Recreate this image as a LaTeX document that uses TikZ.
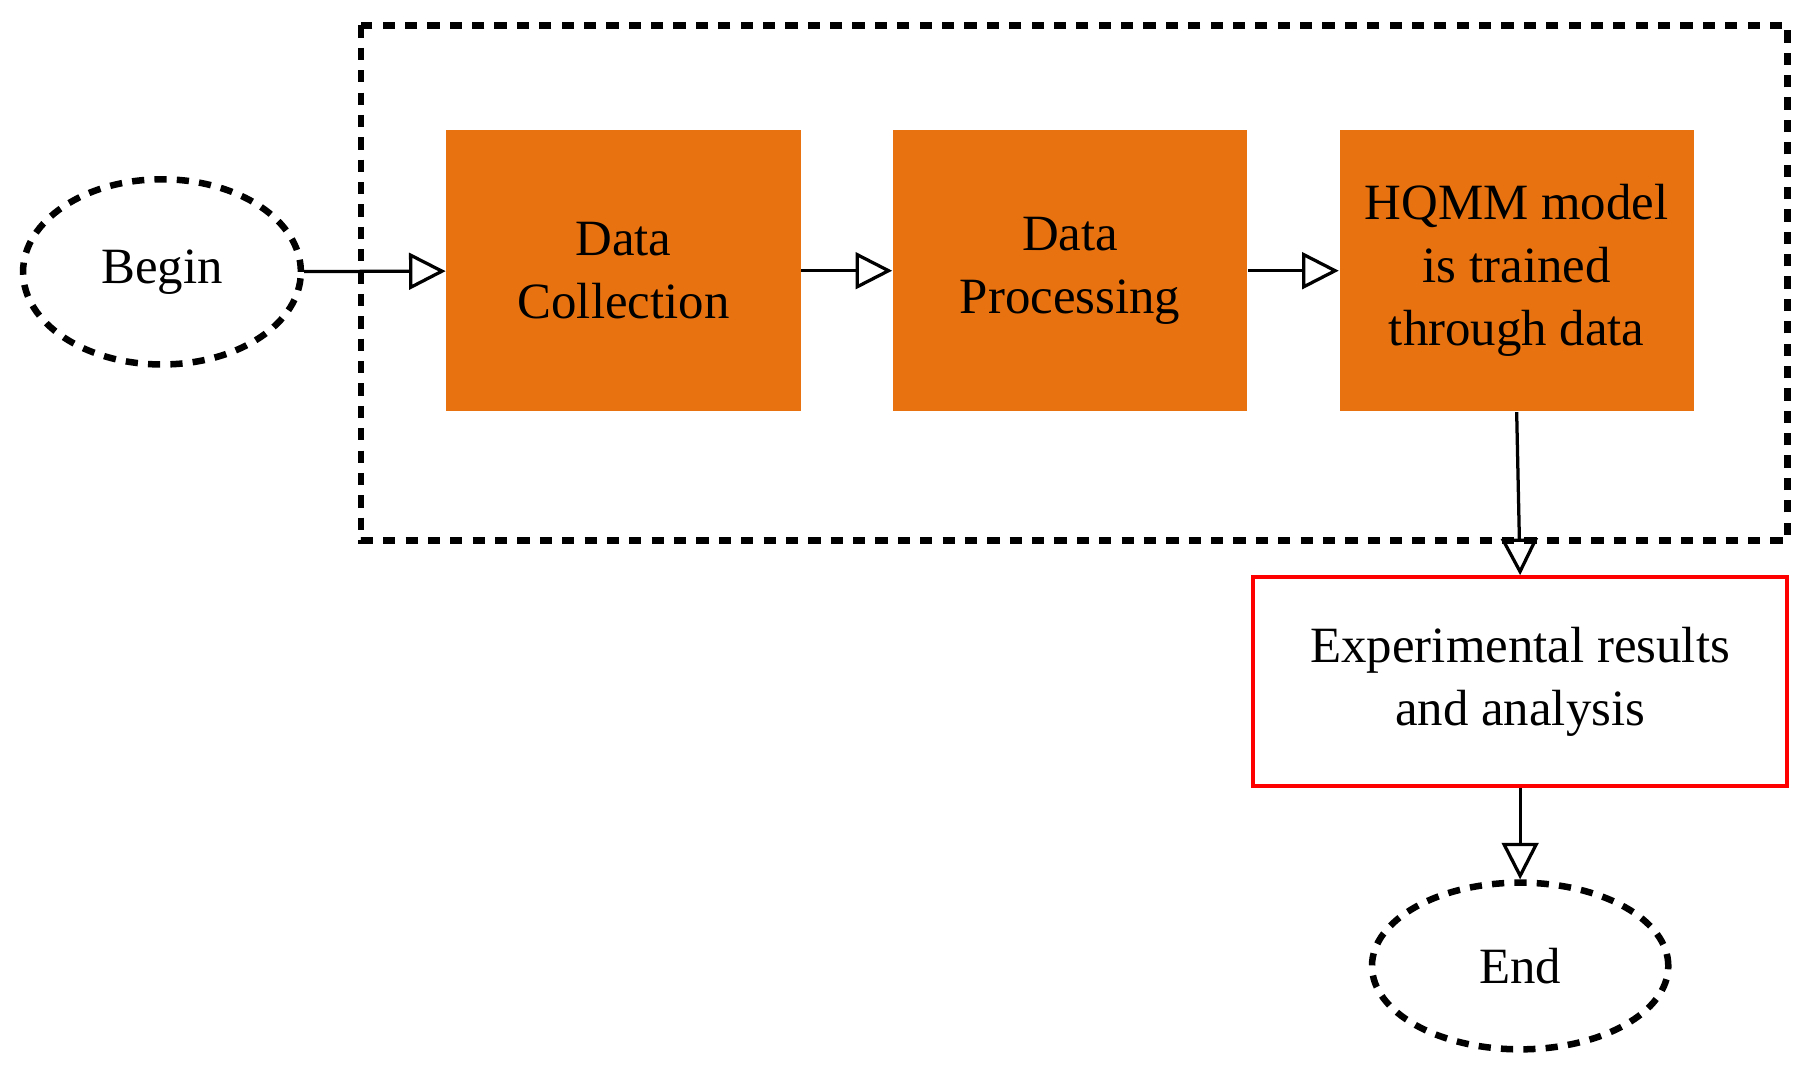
\documentclass[tikz,border=0pt]{standalone}
\usepackage{fontspec}
\setmainfont{Liberation Serif}
\usetikzlibrary{shapes.geometric,arrows.meta}
\definecolor{boxorange}{RGB}{233,114,16}
\begin{document}
\begin{tikzpicture}[x=0.01cm,y=-0.01cm,
    every node/.style={font=\fontsize{12.5}{15.5}\selectfont, align=center},
    terminal/.style={ellipse, draw, dashed, line width=1.6pt, dash pattern=on 3pt off 2.5pt},
    stage/.style={fill=boxorange, minimum width=3.06cm, minimum height=2.43cm, inner sep=0pt},
    flow/.style={-{Triangle[open,length=9pt,width=9pt]}, line width=0.8pt}]
        \useasboundingbox (0,0) rectangle (1568,927);
        % Dashed frame
        \draw[line width=1.6pt, dash pattern=on 3pt off 2.5pt] (312,22) rectangle (1545,467);
        % Nodes
        \node[terminal, minimum width=2.4cm, minimum height=1.6cm] (begin) at (140,235) {Begin};
        \node[stage] (collect) at (539,234) {Data\\Collection};
        \node[stage] (process) at (925,234) {Data\\Processing};
        \node[stage] (train) at (1311,234) {HQMM model\\is trained\\through data};
        \node[draw=red, line width=1pt, minimum width=4.61cm, minimum height=1.8cm] (result) at (1314,589) {Experimental results\\and analysis};
        \node[terminal, minimum width=2.56cm, minimum height=1.44cm] (end) at (1314,835) {End};
        % Connectors
        \draw[flow] (begin) -- (collect);
        \draw[flow] (collect) -- (process);
        \draw[flow] (process) -- (train);
        \draw[flow] (train.south) -- (result.north);
        \draw[flow] (result) -- (end);
\end{tikzpicture}
\end{document}
